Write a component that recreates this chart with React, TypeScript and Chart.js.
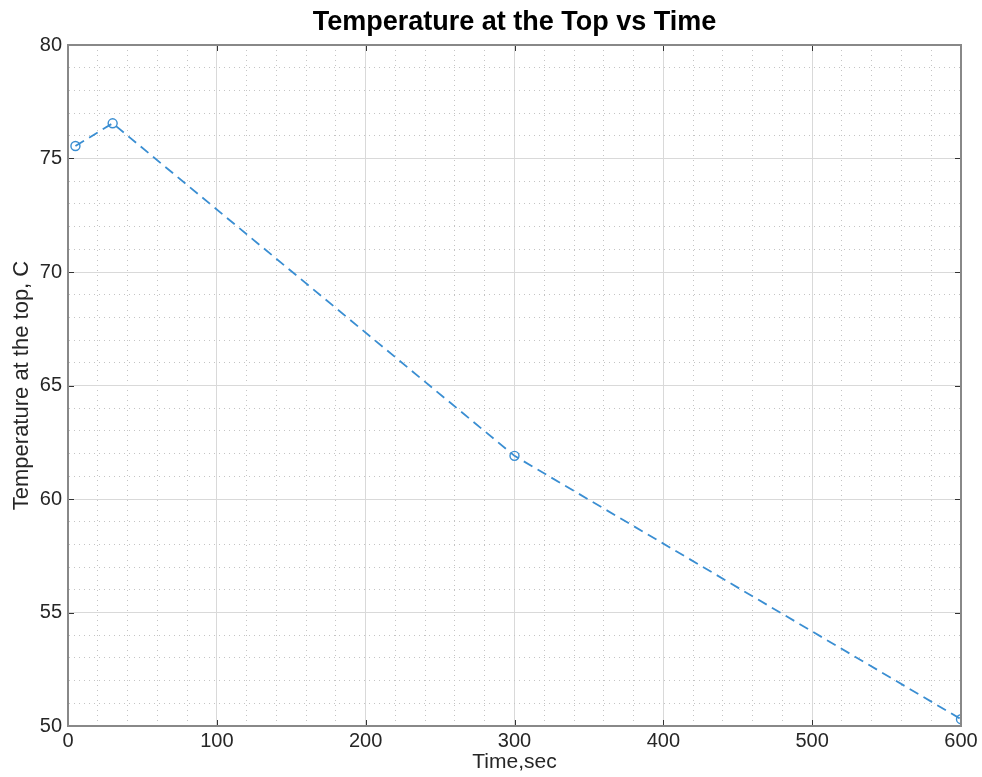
import React, { useEffect, useRef } from "react";
import { Chart, registerables } from "chart.js";

Chart.register(...registerables);

const timeSec = [5, 30, 300, 600];
const tempTop = [75.55, 76.55, 61.9, 50.3];
const xMajorStep = 100;
const yMajorStep = 5;
const chartTitle = "Temperature at the Top vs Time";

const boxPlugin = {
  id: "boxPlugin",
  afterDraw(chart: any) {
    const { ctx, chartArea } = chart;
    const xs = chart.scales.x;
    const ys = chart.scales.y;
    ctx.save();
    ctx.strokeStyle = "#333";
    ctx.lineWidth = 1;
    ctx.beginPath();
    xs.ticks.forEach((t: any) => {
      if (t.value % xMajorStep !== 0) return;
      const px = Math.round(xs.getPixelForValue(t.value)) + 0.5;
      ctx.moveTo(px, chartArea.bottom);
      ctx.lineTo(px, chartArea.bottom - 6);
      ctx.moveTo(px, chartArea.top);
      ctx.lineTo(px, chartArea.top + 6);
    });
    ys.ticks.forEach((t: any) => {
      if (t.value % yMajorStep !== 0) return;
      const py = Math.round(ys.getPixelForValue(t.value)) + 0.5;
      ctx.moveTo(chartArea.left, py);
      ctx.lineTo(chartArea.left + 6, py);
      ctx.moveTo(chartArea.right, py);
      ctx.lineTo(chartArea.right - 6, py);
    });
    ctx.stroke();
    ctx.strokeStyle = "#888";
    ctx.lineWidth = 2;
    ctx.strokeRect(chartArea.left, chartArea.top, chartArea.right - chartArea.left, chartArea.bottom - chartArea.top);
    ctx.restore();
  },
};

export default function App() {
  const ref = useRef<HTMLCanvasElement>(null);
  useEffect(() => {
    document.body.style.margin = "0";
    const font = "'Liberation Sans', Arial, Helvetica, sans-serif";
    const chart = new Chart(ref.current!, {
      type: "scatter",
      data: {
        datasets: [
          {
            data: timeSec.map((t, i) => ({ x: t, y: tempTop[i] })),
            showLine: true,
            borderColor: "#3a8ed2",
            borderWidth: 1.8,
            borderDash: [10, 6],
            pointRadius: 4.5,
            pointBorderWidth: 1.4,
            pointBorderColor: "#3a8ed2",
            pointBackgroundColor: "rgba(0,0,0,0)",
            pointStyle: "circle",
          },
        ],
      },
      options: {
        animation: false,
        responsive: false,
        layout: { padding: { left: 0, right: 21, top: 0, bottom: 0 } },
        plugins: {
          legend: { display: false },
          tooltip: { enabled: false },
          title: { display: false },
        },
        scales: {
          xTop: {
            type: "linear",
            position: "top",
            min: 0,
            max: 600,
            afterFit: (s: any) => {
              s.height = 45;
            },
            ticks: { display: false },
            grid: { display: false, drawTicks: false },
            border: { display: false },
            title: {
              display: true,
              text: chartTitle,
              color: "#000",
              font: { family: font, size: 27, weight: "bold", lineHeight: 1 },
              padding: { top: 9, bottom: 9 },
            },
          },
          x: {
            type: "linear",
            position: "bottom",
            min: 0,
            max: 600,
            afterFit: (s: any) => {
              s.height = 51;
            },
            ticks: {
              stepSize: 20,
              autoSkip: false,
              maxRotation: 0,
              padding: 3,
              color: "#262626",
              font: { family: font, size: 20 },
              callback: (v: any) => (Number(v) % xMajorStep === 0 ? String(v) : ""),
            },
            grid: {
              drawTicks: false,
              color: (c: any) =>
                c.tick && c.tick.value % xMajorStep === 0 ? "#d9d9d9" : "#c4c4c4",
              lineWidth: 1,
            },
            border: {
              display: true,
              color: "#888",
              width: 2,
              dash: (c: any) => (c.tick && c.tick.value % xMajorStep === 0 ? [] : [1, 4]),
            },
            title: {
              display: true,
              text: "Time,sec",
              color: "#262626",
              font: { family: font, size: 21 },
              padding: { top: 0, bottom: 2 },
            },
          },
          y: {
            type: "linear",
            min: 50,
            max: 80,
            afterFit: (s: any) => {
              s.width = 68;
            },
            ticks: {
              stepSize: 1,
              autoSkip: false,
              padding: 6,
              color: "#262626",
              font: { family: font, size: 20 },
              callback: (v: any) => (Number(v) % yMajorStep === 0 ? String(v) : ""),
            },
            grid: {
              drawTicks: false,
              color: (c: any) =>
                c.tick && c.tick.value % yMajorStep === 0 ? "#d9d9d9" : "#c4c4c4",
              lineWidth: 1,
            },
            border: {
              display: true,
              color: "#888",
              width: 2,
              dash: (c: any) => (c.tick && c.tick.value % yMajorStep === 0 ? [] : [1, 4]),
            },
            title: {
              display: true,
              text: "Temperature at the top, C",
              color: "#262626",
              font: { family: font, size: 22 },
              padding: { top: 9, bottom: 0 },
            },
          },
        },
      },
      plugins: [boxPlugin],
    });
    return () => chart.destroy();
  }, []);
  return (
    <div style={{ width: 982, height: 777, background: "#fff" }}>
      <canvas ref={ref} width={982} height={777} style={{ display: "block" }} />
    </div>
  );
}
